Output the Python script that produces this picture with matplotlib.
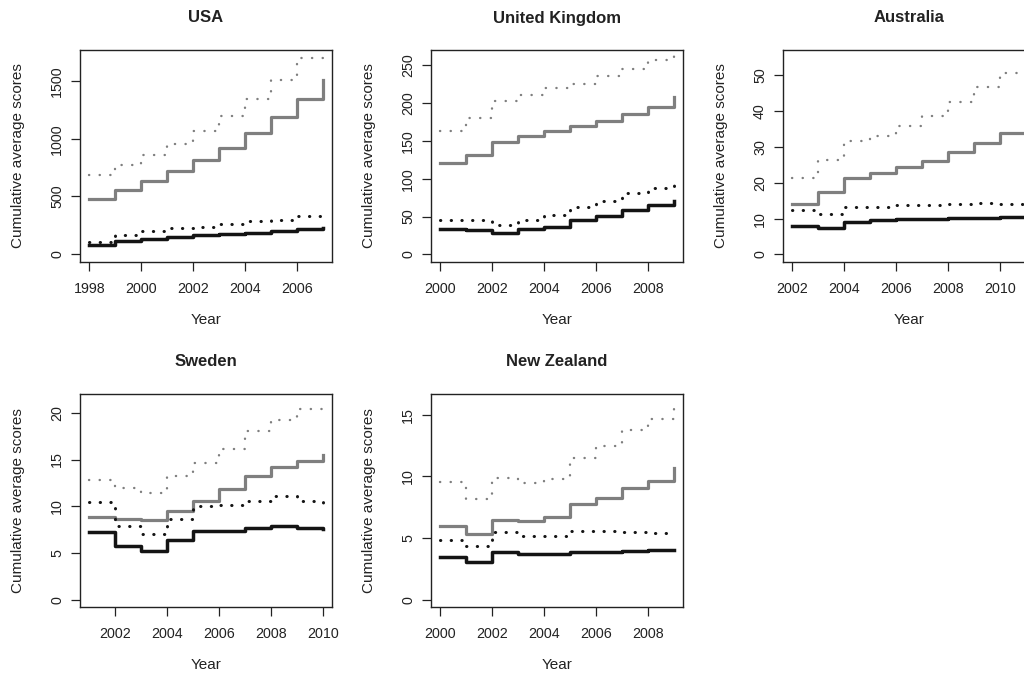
import matplotlib
matplotlib.use("Agg")
import matplotlib.pyplot as plt
from matplotlib.ticker import MultipleLocator

plt.rcParams["font.family"] = ["Liberation Sans", "DejaVu Sans"]

# USA
usa_years = list(range(1998, 2008))
usa_grey_line = [476, 557, 635, 718, 813, 923, 1050, 1188, 1350, 1512]
usa_grey_dots = [684, 773, 857, 952, 1067, 1197, 1350, 1514, 1702, 1725]
usa_black_line = [72, 112, 130, 150, 159, 170, 182, 196, 216, 228]
usa_black_dots = [101, 167, 196, 228, 236, 257, 283, 297, 332, 335]

# United Kingdom
uk_years = list(range(2000, 2010))
uk_grey_line = [121, 131, 149, 156, 163, 169, 176.5, 185, 195, 208]
uk_grey_dots = [163, 180, 203, 210, 220, 225, 235.5, 245, 257, 266]
uk_black_line = [33, 32, 28, 33.5, 36, 45, 50.6, 59, 65, 70]
uk_black_dots = [46, 46, 39, 46, 52, 62, 70, 81, 88, 91.5]

# Australia
aus_years = list(range(2002, 2012))
aus_grey_line = [14.2, 17.5, 21.4, 22.7, 24.5, 26.1, 28.7, 31.2, 33.8, 35.5]
aus_grey_dots = [21.4, 26.3, 31.7, 33.0, 35.9, 38.5, 42.4, 46.8, 50.5, 52.0]
aus_black_line = [7.9, 7.5, 9.0, 9.5, 9.8, 9.8, 10.1, 10.2, 10.5, 10.6]
aus_black_dots = [12.3, 11.2, 13.3, 13.3, 13.7, 13.7, 14.1, 14.4, 14.2, 14.3]

# Sweden
swe_years = list(range(2001, 2011))
swe_grey_line = [8.83, 8.65, 8.54, 9.54, 10.6, 11.8, 13.2, 14.2, 14.8, 15.5]
swe_grey_dots = [12.8, 12.0, 11.4, 13.2, 14.6, 16.1, 18.1, 19.2, 20.4, 20.6]
swe_black_line = [7.3, 5.8, 5.27, 6.44, 7.33, 7.4, 7.65, 7.9, 7.72, 7.6]
swe_black_dots = [10.46, 7.9, 7.05, 8.6, 10.07, 10.1, 10.6, 11.1, 10.6, 10.25]

# New Zealand
nz_years = list(range(2000, 2010))
nz_grey_line = [5.97, 5.29, 6.48, 6.37, 6.73, 7.73, 8.22, 9.06, 9.63, 10.7]
nz_grey_dots = [9.57, 8.14, 9.85, 9.49, 9.82, 11.53, 12.45, 13.78, 14.65, 15.8]
nz_black_line = [3.47, 3.06, 3.9, 3.72, 3.72, 3.9, 3.88, 3.93, 3.99, 4.07]
nz_black_dots = [4.88, 4.34, 5.5, 5.15, 5.15, 5.6, 5.59, 5.48, 5.45, 5.45]

titles = ["USA", "United Kingdom", "Australia", "Sweden", "New Zealand"]
y_steps = [500, 50, 10, 5, 5]
y_limits = [(-72, 1774), (-10, 270), (-2.1, 57), (-0.75, 22), (-0.6, 16.7)]

panels = [
    (usa_years, usa_grey_line, usa_grey_dots, usa_black_line, usa_black_dots),
    (uk_years, uk_grey_line, uk_grey_dots, uk_black_line, uk_black_dots),
    (aus_years, aus_grey_line, aus_grey_dots, aus_black_line, aus_black_dots),
    (swe_years, swe_grey_line, swe_grey_dots, swe_black_line, swe_black_dots),
    (nz_years, nz_grey_line, nz_grey_dots, nz_black_line, nz_black_dots),
]

# plot boxes in pixels: left, top, right, bottom
boxes = [
    (80, 50, 332, 262),
    (431, 50, 683, 262),
    (783, 50, 1035, 262),
    (80, 394, 332, 607),
    (431, 394, 683, 607),
]

W, H = 1024, 674
fig = plt.figure(figsize=(W / 100, H / 100), dpi=100)

GREY = "#7f7f7f"
BLACK = "#141414"
INK = "#222222"

for (years, gl, gd, bl, bd), title, step, ylim, (l, t, r, b) in zip(
    panels, titles, y_steps, y_limits, boxes
):
    ax = fig.add_axes([l / W, 1 - b / H, (r - l) / W, (b - t) / H])
    ax.plot(years, gl, drawstyle="steps-post", color=GREY, lw=2.3)
    ax.plot(years, gd, drawstyle="steps-post", color=GREY, lw=1.7,
            linestyle=(0, (0.1, 4.4)), dash_capstyle="round")
    ax.plot(years, bl, drawstyle="steps-post", color=BLACK, lw=2.5)
    ax.plot(years, bd, drawstyle="steps-post", color=BLACK, lw=2.2,
            linestyle=(0, (0.1, 3.4)), dash_capstyle="round")

    span = years[-1] - years[0]
    ax.set_xlim(years[0] - 0.04 * span, years[-1] + 0.04 * span)
    ax.set_ylim(*ylim)
    ax.xaxis.set_major_locator(MultipleLocator(2))
    ax.yaxis.set_major_locator(MultipleLocator(step))

    ax.tick_params(direction="out", length=6.5, width=0.9, colors=INK,
                   labelsize=10.3, pad=8)
    ax.tick_params(axis="y", labelrotation=90, pad=5)
    for lab in ax.get_yticklabels():
        lab.set_va("center")
    for sp in ax.spines.values():
        sp.set_linewidth(1.0)
        sp.set_color(INK)

    ax.set_xlabel("Year", fontsize=11, color=INK)
    ax.xaxis.set_label_coords(0.5, -58 / (b - t))
    ax.xaxis.label.set_va("center")
    ax.set_ylabel("Cumulative average scores", fontsize=11, color=INK)
    ax.yaxis.set_label_coords(-62 / (r - l), 0.5)
    ax.yaxis.label.set_va("center")

    ax.text(0.5, 1 + 32 / (b - t), title, transform=ax.transAxes,
            ha="center", va="center", fontsize=12, fontweight="bold",
            color=INK)

fig.savefig("out.png", dpi=100)
